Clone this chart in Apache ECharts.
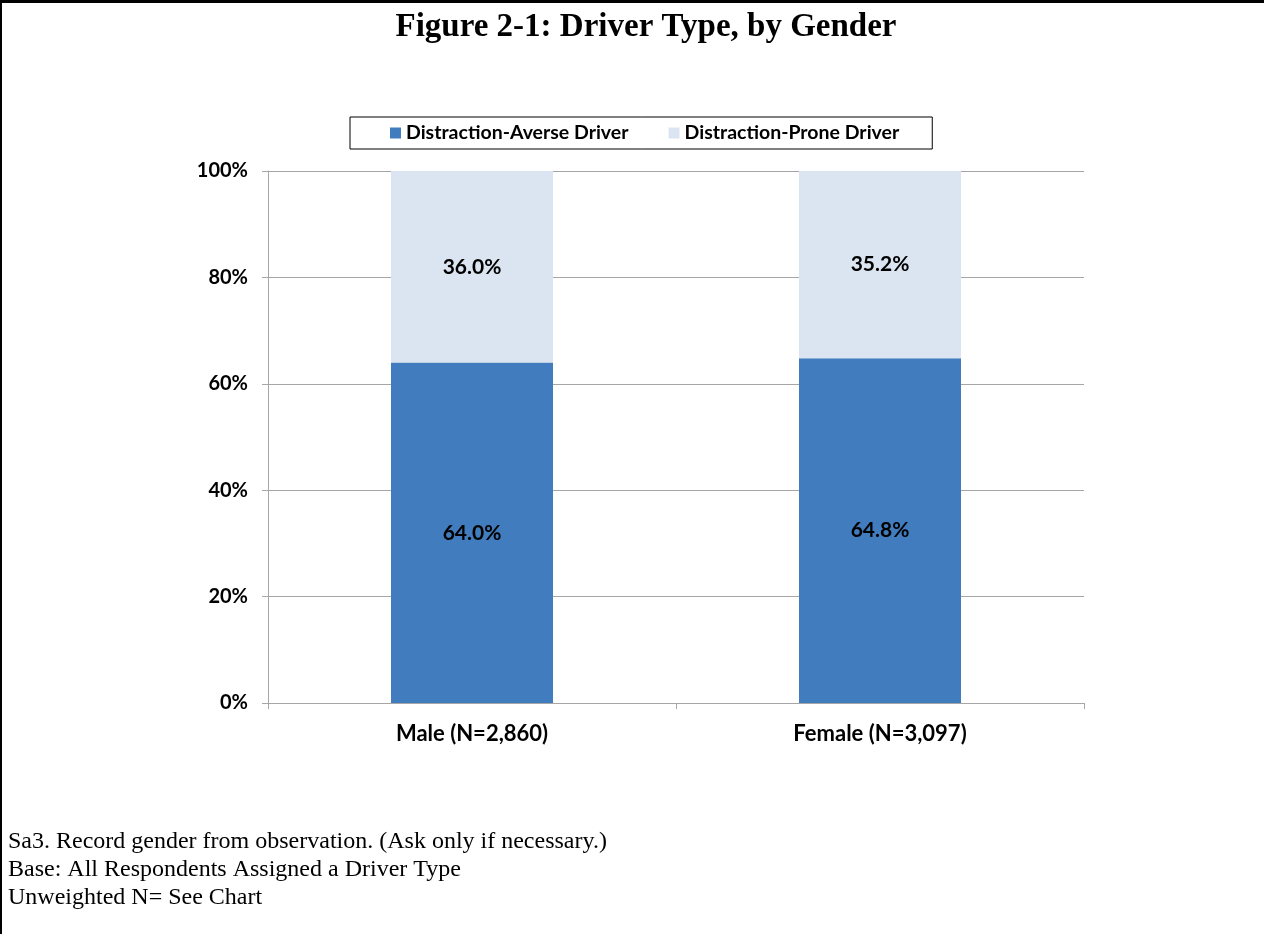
<!DOCTYPE html>
<html>
<head>
<meta charset="utf-8">
<script src="https://cdn.jsdelivr.net/npm/echarts@6/dist/echarts.min.js"></script>
<style>
  html, body { margin: 0; padding: 0; background: #fff; }
  #chart { width: 1264px; height: 934px; }
</style>
</head>
<body>
<div id="chart"></div>
<script>
// data
var categories = ['Male (N=2,860)', 'Female (N=3,097)'];
var averse = [64.0, 64.8];
var prone = [36.0, 35.2];
var seriesNames = ['Distraction-Averse Driver', 'Distraction-Prone Driver'];
var notes = [
    'Sa3. Record gender from observation. (Ask only if necessary.)',
    'Base: All Respondents Assigned a Driver Type',
    'Unweighted N= See Chart'
];

var myChart = echarts.init(document.getElementById('chart'));

var labelFont = 'Lato, "Open Sans", sans-serif';
var serifFont = '"Liberation Serif", "Times New Roman", serif';

// label shown inside each bar segment
var barLabel = {
    show: true,
    position: 'inside',
    formatter: function (p) { return p.value.toFixed(1) + '%'; },
    fontFamily: labelFont,
    fontWeight: 'bold',
    fontSize: 21,
    color: '#000'
};

var option = {
    animation: false,
    color: ['#407CBE', '#DBE5F1'],
    title: {
        text: 'Figure 2-1: Driver Type, by Gender',
        left: 641,
        textAlign: 'center',
        top: 6,
        textStyle: {
            fontFamily: serifFont,
            fontWeight: 'bold',
            fontSize: 33,
            color: '#000'
        }
    },
    legend: {
        data: seriesNames,
        left: 350,
        top: 117,
        padding: [6, 33, 6, 40],
        itemGap: 40,
        itemWidth: 11,
        itemHeight: 11,
        icon: 'rect',
        borderColor: '#000',
        borderWidth: 1,
        textStyle: {
            fontFamily: labelFont,
            fontWeight: 'bold',
            fontSize: 19.5,
            color: '#000'
        }
    },
    grid: {
        left: 268,
        right: 180,
        top: 171,
        bottom: 231,
        containLabel: false
    },
    xAxis: {
        type: 'category',
        data: categories,
        axisLine: { lineStyle: { color: '#A6A6A6' } },
        axisTick: { show: true, length: 6, lineStyle: { color: '#A6A6A6' } },
        axisLabel: {
            margin: 20,
            fontFamily: labelFont,
            fontWeight: 'bold',
            fontSize: 22,
            color: '#000'
        }
    },
    yAxis: {
        type: 'value',
        min: 0,
        max: 100,
        interval: 20,
        axisLine: { show: true, lineStyle: { color: '#A6A6A6' } },
        axisTick: { show: true, length: 6, lineStyle: { color: '#A6A6A6' } },
        splitLine: { lineStyle: { color: '#A6A6A6' } },
        axisLabel: {
            margin: 20,
            formatter: '{value}%',
            fontFamily: labelFont,
            fontWeight: 'bold',
            fontSize: 20,
            color: '#000'
        }
    },
    series: [
        {
            name: seriesNames[0],
            type: 'bar',
            stack: 'total',
            barWidth: 162,
            data: averse,
            label: barLabel
        },
        {
            name: seriesNames[1],
            type: 'bar',
            stack: 'total',
            barWidth: 162,
            data: prone,
            label: barLabel
        }
    ],
    graphic: [
        // frame on top and left edge
        { type: 'rect', left: 0, top: 0, shape: { width: 1264, height: 3 }, style: { fill: '#000' } },
        { type: 'rect', left: 0, top: 0, shape: { width: 2, height: 934 }, style: { fill: '#000' } },
        {
            type: 'group',
            left: 8,
            top: 830,
            children: notes.map(function (t, i) {
                return {
                    type: 'text',
                    left: 0,
                    top: i * 28,
                    style: {
                        text: t,
                        fill: '#000',
                        font: '24px ' + serifFont
                    }
                };
            })
        }
    ]
};

myChart.setOption(option);
</script>
</body>
</html>
